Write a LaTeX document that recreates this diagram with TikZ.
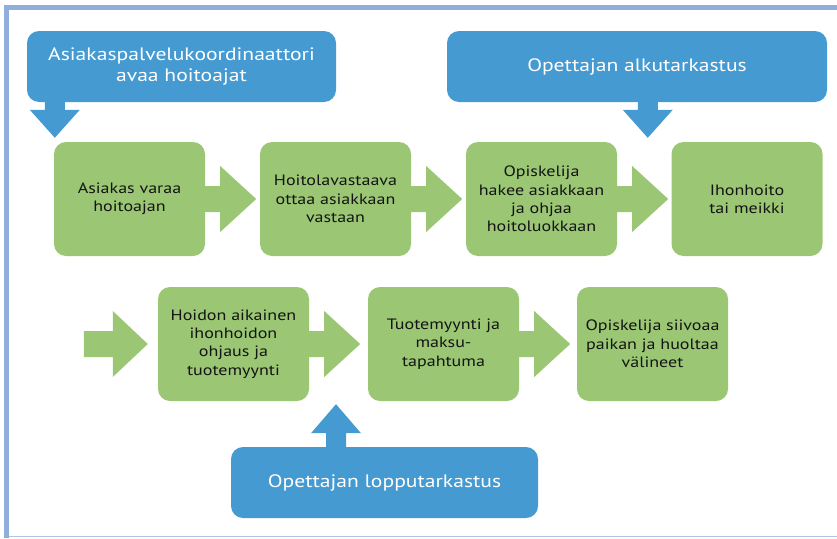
\documentclass[tikz,border=0pt]{standalone}
\usepackage{fontspec}
\setmainfont{PT Sans}[FakeStretch=1.2]
\usetikzlibrary{calc}

\definecolor{flowgreen}{RGB}{155,199,117}
\definecolor{flowblue}{RGB}{69,154,210}
\definecolor{framebl}{RGB}{143,174,220}
\definecolor{textdark}{RGB}{20,20,20}

\tikzset{
  stepbox/.style={fill=flowgreen, rounded corners=12pt, minimum width=151pt,
    minimum height=114pt, align=center, text=textdark, inner sep=0pt,
    font=\fontsize{15}{18.3}\selectfont},
  checkbox/.style={fill=flowblue, rounded corners=12pt, minimum height=71pt,
    align=center, text=white, inner sep=0pt, font=\fontsize{18}{21.5}\selectfont},
  greenarrow/.style={fill=flowgreen},
  bluearrow/.style={fill=flowblue}
}

% block arrow: style, start, tip, head length, shaft half width, head half width
\newcommand\blockarrow[6]{%
  \coordinate (ah) at ($(#3)!#4!(#2)$);
  \fill[#1] ($(#2)!#5!90:(#3)$) -- ($(ah)!#5!-90:(#2)$) -- ($(ah)!#6!-90:(#2)$)
    -- (#3) -- ($(ah)!#6!90:(#2)$) -- ($(ah)!#5!90:(#2)$)
    -- ($(#2)!#5!-90:(#3)$) -- cycle;
}
% green arrow from one step to the next
\newcommand\flowarrow[2]{%
  \coordinate (fa) at ($(#1.east)!51pt!(#2.west)$);
  \blockarrow{greenarrow}{#1.east}{fa}{36pt}{13pt}{33pt}
}

\begin{document}
\begin{tikzpicture}[x=1pt,y=-1pt]
  \useasboundingbox (0,0) rectangle (837,538);

  % frame
  \draw[framebl, line width=5pt] (837,7.5) -- (6.5,7.5) -- (6.5,538);
  \draw[framebl!70, line width=1pt] (9,536.5) -- (837,536.5);

  % checks by staff
  \node[checkbox, minimum width=309pt] (coord) at (181.5,66.5)
    {Asiakaspalvelukoordinaattori\\avaa hoitoajat};
  \node[checkbox, minimum width=380pt] (alku) at (637,66.5)
    {Opettajan alkutarkastus};
  \node[checkbox, minimum width=307pt] (loppu) at (384.5,482.5)
    {Opettajan lopputarkastus};

  % first row
  \node[stepbox] (g1) at (129.5,199) {Asiakas varaa\\hoitoajan};
  \node[stepbox] (g2) at (335.5,199) {Hoitolavastaava\\ottaa asiakkaan\\vastaan};
  \node[stepbox] (g3) at (541.5,199) {Opiskelija\\hakee asiakkaan\\ja ohjaa\\hoitoluokkaan};
  \node[stepbox] (g4) at (747,199) {Ihonhoito\\tai meikki};

  % second row
  \node[stepbox] (g5) at (233.5,344) {Hoidon aikainen\\ihonhoidon\\ohjaus ja\\tuotemyynti};
  \node[stepbox] (g6) at (443.5,344) {Tuotemyynti ja\\maksu-\\tapahtuma};
  \node[stepbox] (g7) at (652.5,344) {Opiskelija siivoaa\\paikan ja huoltaa\\välineet};

  \flowarrow{g1}{g2}
  \flowarrow{g2}{g3}
  \flowarrow{g3}{g4}
  \flowarrow{g5}{g6}
  \flowarrow{g6}{g7}

  % arrow into the second row
  \coordinate (in2) at ($(g5.west)+(-74,0)$);
  \coordinate (in2tip) at ($(g5.west)+(-10,0)$);
  \blockarrow{greenarrow}{in2}{in2tip}{35pt}{13pt}{33pt}

  % blue arrows
  \coordinate (t1) at ($(g1.north west)+(1,-4)$);
  \coordinate (t2) at ($(g3.north east)!0.5!(g4.north west)+(3.5,-4)$);
  \coordinate (t3) at ($(g5.south east)!0.5!(g6.south west)+(-2.5,3)$);
  \blockarrow{bluearrow}{t1 |- coord.south}{t1}{28pt}{10pt}{25pt}
  \blockarrow{bluearrow}{t2 |- alku.south}{t2}{28pt}{10pt}{25pt}
  \blockarrow{bluearrow}{t3 |- loppu.north}{t3}{29pt}{10pt}{25pt}
\end{tikzpicture}
\end{document}
